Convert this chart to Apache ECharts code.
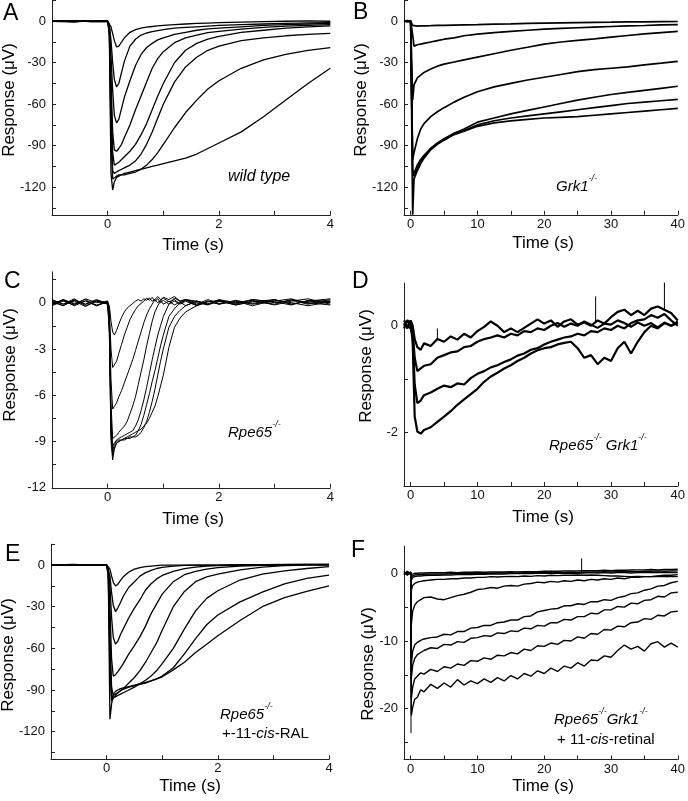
<!DOCTYPE html>
<html><head><meta charset="utf-8">
<script src="https://cdn.jsdelivr.net/npm/echarts@6/dist/echarts.min.js"></script>
<style>html,body{margin:0;padding:0;background:#fff}#c{width:688px;height:801px}</style>
</head><body><div id="c"></div>
<script>
// ---------- Panel A: wild type (time s, response µV) ----------
const aTime = [-1,-0.6,-0.3,0,0.03,0.06,0.09,0.12,0.16,0.2,0.25,0.3,0.4,0.5,0.6,0.7,0.8,0.9,1.0,1.2,1.4,1.6,1.8,2.0,2.4,2.8,3.2,3.6,4.0];
const aT1 = [0.5,-0.5,0.3,0,0,-4,-9,-14,-18.5,-18,-15,-12,-8,-6,-5,-4.3,-3.8,-3.4,-3,-2.5,-2,-1.6,-1.3,-1,-0.6,-0.3,0,0.3,0];
const aT2 = [0.3,0.5,-0.3,0,-2,-14,-30,-42,-47.5,-45,-37,-29,-18,-13,-10,-8.5,-7.5,-6.7,-6,-5,-4.5,-4,-3.5,-3,-2.5,-2,-1.5,-1.2,-1];
const aT3 = [0,0.3,0,0,-3,-25,-50,-68,-73.5,-71,-63,-55,-43,-32,-24,-19,-16,-13.5,-12,-9.5,-8,-6.5,-5.5,-5,-4,-3,-2.5,-2,-1.5];
const aT4 = [0,-0.3,0.3,0,-4,-40,-80,-93,-94,-92,-89,-84,-75,-64,-54,-44,-34,-27,-22,-15.5,-12,-10,-8.3,-7.3,-5.7,-4.5,-3.5,-3,-2.5];
const aT5 = [0,0.3,-0.3,0,-5,-55,-95,-104,-103,-102,-100,-98,-94,-89,-82,-74,-64,-54,-45,-30,-21,-16,-13,-11,-8,-6.5,-5,-4,-3.4];
const aT6 = [0,-0.3,0.3,0,-6,-70,-108,-110,-109,-108,-107,-106,-104,-101,-96,-89,-80,-70,-60,-44,-33,-26,-21,-18,-14,-12,-10.5,-9.5,-8.7];
const aT7 = [0,0.3,0,0,-8,-85,-114,-113,-112,-111,-111,-111,-110,-109,-107,-104,-100,-95,-89,-77,-66,-57,-49,-43,-34,-28,-24,-21,-19];
const aT8 = [0,-0.3,0.3,0,-10,-110,-122,-116,-113,-112,-111,-110,-109,-108,-107,-106,-105,-104,-103,-101,-99,-96,-92,-88,-80,-69,-57,-45,-34];

// ---------- Panel B: Grk1-/- ----------
const bTime = [-1,-0.5,0,0.2,0.3,0.5,1,1.5,2,3,4,5,6.5,8,10,12.5,15,17.5,20,22.5,25,27.5,30,32.5,35,37.5,40];
const bT1 = [0,0.5,0,0,-3,-3.5,-3.5,-3.4,-3.3,-3.2,-3,-3,-2.8,-2.6,-2.4,-2.1,-1.9,-1.6,-1.4,-1.2,-1,-0.8,-0.7,-0.5,-0.4,-0.3,-0.2];
const bT2 = [0,-0.5,0,0,-10,-18,-17,-16.5,-16,-15,-14,-13,-12,-10.5,-9.3,-8.3,-7.3,-6.5,-5.7,-5.2,-4.7,-4.2,-3.8,-3.4,-3.1,-2.7,-2.4];
const bT3 = [0,0,0.5,0,-57,-46,-41,-39,-37,-34.5,-32.5,-31,-29.5,-28,-26,-23.5,-21,-18.8,-16.5,-15,-13.8,-12.7,-11.5,-10.3,-9.2,-8.3,-7.4];
const bT4 = [0,0,-0.5,0,-100,-95,-85,-78,-74,-69,-65.5,-62.5,-58.5,-55,-51,-47.5,-45,-42.5,-40.5,-38.5,-36.5,-35,-34,-33,-31.5,-30.3,-29];
const bT5 = [0,0,0,0,-108,-110,-104,-100,-97,-92,-88,-85,-81,-78,-73,-70,-67,-64.5,-62,-59.5,-57,-55,-53,-51.5,-50,-48.5,-47];
const bT6 = [0,0,0,0,-110,-112,-106,-101,-98,-92,-88.5,-85.5,-81.5,-79,-75,-72,-70,-68.5,-67,-65.5,-64,-62.5,-61,-59.5,-58.5,-57.5,-56.5];
const bT7 = [0,0,0,0,-140,-114,-108,-103,-99,-93,-89,-86,-82,-79.5,-76,-73.5,-72,-71,-70,-69.5,-69,-68,-67,-66,-65,-64,-63];

// ---------- Panel C: Rpe65-/- ----------
const cTime = [-1,-0.8,-0.6,-0.4,-0.2,0,0.03,0.06,0.09,0.12,0.16,0.2,0.25,0.3,0.35,0.4,0.45,0.5,0.55,0.6,0.65,0.7,0.75,0.8,0.85,0.9,0.95,1.0,1.1,1.2,1.3,1.4,1.6,1.8,2.0,2.3,2.6,3.0,3.3,3.6,4.0];
const cT1 = [0.1,-0.2,0.2,-0.1,0.15,0,-0.2,-1.2,-1.9,-2.1,-1.8,-1.4,-0.95,-0.6,-0.35,-0.2,-0.05,0.1,0.2,0.1,0.25,0.15,0.3,0.1,0.2,0,0.15,-0.1,0.1,-0.15,0.05,-0.2,0.1,-0.1,0.15,-0.05,0.2,0,0.15,-0.1,0.2];
const cT2 = [-0.1,0.15,-0.2,0.1,-0.15,0.05,-0.5,-3,-4.2,-4.2,-3.8,-3.3,-2.7,-2.1,-1.6,-1.1,-0.75,-0.45,-0.2,-0.05,0.1,0.3,0.15,0.35,0.1,0.25,0,0.15,-0.1,0.1,-0.05,0.15,-0.15,0.1,-0.1,0.15,-0.05,0.2,-0.1,0.1,0];
const cT3 = [0.2,-0.1,0.1,-0.25,0.1,-0.05,-0.8,-5,-6.9,-6.8,-6.5,-6.1,-5.7,-5.2,-4.7,-4.2,-3.7,-3.1,-2.5,-1.9,-1.3,-0.8,-0.4,-0.1,0.2,0.4,0.2,0.3,0.05,0.2,-0.1,0.1,-0.2,0.05,0.15,-0.15,0.1,-0.1,0.2,0,-0.15];
const cT4 = [-0.15,0.2,-0.05,0.2,-0.2,0.1,-1,-6.5,-8.8,-8.7,-8.6,-8.4,-8.2,-8,-7.7,-7.2,-6.7,-6.1,-5.3,-4.5,-3.7,-2.8,-2,-1.2,-0.6,-0.2,0.1,0.35,0.2,0.4,0.1,0.2,0,-0.15,0.1,-0.1,0.2,0.05,-0.15,0.15,0.1];
const cT5 = [0.05,-0.2,0.15,-0.1,0.2,-0.1,-1.2,-7.5,-9.3,-9.1,-8.9,-8.8,-8.7,-8.6,-8.5,-8.4,-8.3,-8,-7.6,-7,-6.3,-5.5,-4.6,-3.7,-2.9,-2.1,-1.5,-0.9,-0.1,0.3,0.1,0.2,-0.1,0.2,-0.05,0.1,-0.2,0.15,0,-0.2,0.05];
const cT6 = [-0.2,0.1,-0.15,0.25,0,0.1,-1.5,-8,-9.6,-9.2,-9,-8.9,-8.9,-8.8,-8.8,-8.7,-8.7,-8.6,-8.3,-7.9,-7.3,-6.6,-5.9,-5.1,-4.4,-3.6,-2.8,-2.1,-0.9,-0.4,0,0.2,0.1,-0.1,0.2,0,0.15,-0.15,0.1,0.25,-0.1];
const cT7 = [0.15,-0.1,0.25,-0.2,0.1,-0.1,-1.8,-8.5,-9.9,-9.4,-9.1,-9,-8.9,-8.9,-8.8,-8.8,-8.7,-8.7,-8.6,-8.4,-8.1,-7.7,-7.1,-6.4,-5.6,-4.7,-3.8,-3,-1.6,-0.9,-0.5,-0.2,0.1,-0.1,0.1,-0.15,0.05,0.2,-0.1,0.1,0.25];
const cT8 = [-0.1,0.2,-0.1,0.1,-0.2,0.05,-2,-9,-10.2,-9.5,-9.1,-9,-8.9,-8.8,-8.7,-8.6,-8.5,-8.4,-8.3,-8.2,-8,-7.8,-7.5,-7.1,-6.7,-6.1,-5.4,-4.7,-2.9,-1.6,-1,-0.6,-0.2,0.1,-0.1,0.1,-0.1,0.1,0.25,-0.05,0.1];

// ---------- Panel D: Rpe65-/- Grk1-/- ----------
const dTime = [-1,-0.5,0,0.3,0.6,1,1.5,2,3,4,5,6,7,8,9,10,11,12,13,14,15,16,17,18,19,20,21,22,23,24,25,26,27,28,29,30,31,32,33,34,35,36,37,38,39,40];
const dT1 = [0.05,-0.05,0.1,0,-0.25,-0.4,-0.45,-0.33,-0.38,-0.25,-0.3,-0.2,-0.26,-0.15,-0.22,-0.1,-0.02,0.08,0,-0.12,-0.05,-0.12,-0.04,0.04,0.12,0.04,0.1,-0.02,0.08,0.12,0.02,0.06,0,0.1,0.04,0.16,0.26,0.3,0.2,0.28,0.2,0.32,0.36,0.3,0.24,0.1];
const dT2 = [-0.05,0.1,0,-0.1,-0.6,-0.85,-0.8,-0.75,-0.72,-0.6,-0.55,-0.5,-0.48,-0.4,-0.38,-0.3,-0.25,-0.22,-0.18,-0.22,-0.15,-0.18,-0.1,-0.12,-0.05,-0.08,0,0.05,-0.02,0.04,0,0.08,0.02,-0.04,0.04,0.02,0.1,0.05,-0.02,0.06,0,0.05,-0.03,0.06,0,0.05];
const dT3 = [0.1,0,-0.05,-0.2,-1.1,-1.45,-1.4,-1.3,-1.25,-1.18,-1.12,-1.15,-1.08,-1.1,-0.98,-0.9,-0.85,-0.78,-0.74,-0.68,-0.63,-0.56,-0.52,-0.45,-0.42,-0.35,-0.3,-0.26,-0.22,-0.2,-0.15,-0.18,-0.1,-0.12,-0.05,-0.08,0,-0.05,0.05,0.1,0.12,0.2,0.15,0.22,0.1,0];
const dT4 = [0,0.1,0.05,-0.3,-1.7,-1.98,-2.02,-1.95,-1.9,-1.8,-1.7,-1.6,-1.48,-1.38,-1.28,-1.18,-1.05,-0.95,-0.88,-0.8,-0.74,-0.66,-0.6,-0.52,-0.46,-0.42,-0.4,-0.35,-0.32,-0.3,-0.42,-0.6,-0.55,-0.72,-0.6,-0.66,-0.42,-0.3,-0.52,-0.3,-0.12,0,-0.05,0.05,0,0.08];
const dSpikeTime = [4, 27.7, 38];
const dSpikeLow = [-0.25, 0.05, 0.3];
const dSpikeHigh = [-0.05, 0.55, 0.86];

// ---------- Panel E: Rpe65-/- + 11-cis-RAL ----------
const eTime = [-1,-0.6,-0.3,0,0.03,0.06,0.09,0.12,0.16,0.2,0.25,0.3,0.4,0.5,0.6,0.7,0.8,0.9,1.0,1.2,1.4,1.6,1.8,2.0,2.4,2.8,3.2,3.6,4.0];
const eT1 = [0,0.5,0,0,0,-3,-8,-12.5,-15,-14,-11,-8.5,-5,-3,-1.8,-1.2,-0.8,-0.4,0,0,0,0,0,0,0,0,0.3,0.5,0.5];
const eT2 = [0,0,0.3,0,-1,-8,-20,-29,-33.5,-31,-27,-22.5,-16,-12,-8,-5.5,-3.8,-2.5,-1.7,-0.8,-0.3,0,0,0,0.3,0.3,0.5,0.5,0.5];
const eT3 = [0,0.3,0,0,-2,-15,-38,-52,-57,-55,-50,-46,-38,-31,-25,-18,-13.5,-10,-7.5,-4.5,-2.6,-1.5,-0.8,-0.5,0,0,0.3,0.3,0.3];
const eT4 = [0,0,0.3,0,-3,-30,-68,-80,-79,-77,-74,-71,-64,-58,-51.6,-44,-35,-28,-21,-12,-7,-4.5,-3,-1.8,-0.8,-0.3,0,0.3,0.3];
const eT5 = [0,0,0,0,-4,-50,-88,-94,-93,-92,-90.5,-89,-85,-81,-76,-70,-63,-56,-47,-30,-19,-12,-8.5,-6.5,-3.5,-1.5,-0.5,0,0];
const eT6 = [0,0,0,0,-5,-65,-95,-96,-95,-94,-93,-92,-90,-88,-85.5,-83,-80,-76,-71,-60,-46,-33,-24,-18.5,-10.8,-6.5,-4.2,-2.5,-1.2];
const eT7 = [0,0,0,0,-6,-75,-98,-96,-94,-92,-90.5,-89.5,-88,-87,-86,-85,-83.5,-82,-80,-74,-64,-53,-43,-36,-26.5,-19.5,-13.5,-9.6,-7.2];
const eT8 = [0,0,0,0,-8,-111,-100,-93,-91,-90,-89,-88.5,-87.5,-86.5,-85.5,-84.5,-83.5,-82,-80.5,-75.5,-70,-63,-57,-51,-40,-30,-23.5,-19,-15];

// ---------- Panel F: Rpe65-/- Grk1-/- + 11-cis-retinal ----------
const fTime = [-1,-0.5,0,0.1,0.3,0.6,1,1.5,2,3,4,5,6,7,8,9,10,11,12,13,14,15,16,17,18,19,20,21,22,23,24,25,26,27,28,29,30,31,32,33,34,35,36,37,38,39,40];
const fT1 = [0,0.1,0.1,-0.2,-0.1,0,0,0.05,0.05,0.1,0.1,0.1,0.15,0.1,0.15,0.15,0.2,0.15,0.2,0.2,0.2,0.25,0.2,0.25,0.25,0.25,0.3,0.3,0.3,0.35,0.35,0.35,0.4,0.4,0.4,0.45,0.4,0.45,0.45,0.5,0.5,0.5,0.55,0.5,0.55,0.55,0.6];
const fT2 = [0.1,0,0.1,-0.5,-0.3,-0.25,-0.2,-0.2,-0.15,-0.1,-0.1,-0.1,-0.05,-0.05,0,0,0,0.05,0,0.05,0.05,0.1,0.05,0.1,0.1,0.1,0.15,0.1,0.15,0.15,0.2,0.15,0.2,0.2,0.2,0.25,0.2,0.25,0.25,0.3,0.25,0.3,0.3,0.35,0.3,0.35,0.35];
const fT3 = [0,0.1,0,-1,-0.6,-0.5,-0.4,-0.4,-0.35,-0.3,-0.3,-0.25,-0.25,-0.2,-0.2,-0.2,-0.15,-0.15,-0.1,-0.1,-0.1,-0.05,-0.05,0,-0.05,0,0,0,0.05,0,0.05,0,0.05,0.1,0.05,0.1,0.05,0.1,0.1,0.05,0.1,0.15,0.1,0.15,0.1,0.15,0.1];
const fT4 = [0.1,0,-0.1,-2.5,-1.8,-1.5,-1.3,-1.2,-1.1,-1,-0.9,-0.9,-0.8,-0.8,-0.7,-0.7,-0.6,-0.6,-0.5,-0.55,-0.5,-0.45,-0.5,-0.4,-0.45,-0.35,-0.4,-0.3,-0.35,-0.3,-0.3,-0.25,-0.3,-0.25,-0.3,-0.35,-0.4,-0.4,-0.45,-0.5,-0.45,-0.5,-0.5,-0.45,-0.5,-0.45,-0.5];
const fT5 = [0,-0.1,0.1,-7.5,-5.6,-4.7,-4.2,-3.9,-3.6,-3.5,-3.8,-3.9,-3.6,-3.3,-3.1,-2.8,-2.4,-2.3,-2.1,-2.2,-1.9,-1.8,-1.9,-1.6,-1.5,-1.3,-1.4,-1.2,-1.3,-1.1,-1.2,-1,-1.1,-0.9,-1,-0.8,-0.9,-0.7,-0.8,-0.6,-0.6,-0.5,-0.5,-0.4,-0.3,-0.3,-0.2];
const fT6 = [-0.1,0.2,0,-13.5,-11.5,-10.6,-10.2,-9.9,-9.7,-9.5,-9.4,-9,-9.1,-8.6,-8.6,-8.1,-8,-7.7,-7.7,-7.3,-7.2,-6.9,-6.9,-6.4,-6.3,-5.7,-5.5,-5.3,-5.2,-4.8,-4.8,-4.5,-4.6,-4.2,-4.2,-3.9,-4,-3.6,-3.4,-3,-2.9,-2.5,-2.3,-1.9,-1.8,-1.4,-1.2];
const fT7 = [0.1,-0.2,0.2,-15.5,-13.6,-12.6,-12,-11.7,-11.4,-11,-11.1,-10.5,-10.6,-10.1,-10.2,-9.6,-9.5,-9.2,-9.3,-8.8,-8.9,-8.5,-8.6,-8.1,-8.2,-7.7,-7.8,-7.3,-7.3,-6.8,-6.9,-6.4,-6.4,-5.9,-6,-5.4,-5.4,-4.9,-5,-4.4,-4.5,-4,-3.9,-3.4,-3.5,-2.9,-2.8];
const fT8 = [-0.2,0.3,-0.1,-18.5,-16.8,-15.6,-15.2,-14.7,-14.9,-14.2,-14.5,-13.8,-14,-13.4,-13.6,-12.9,-13,-12.5,-12.7,-12.1,-12.2,-11.7,-11.9,-11.2,-11.4,-10.7,-10.8,-10.3,-10.5,-9.9,-10,-9.4,-9.6,-8.9,-9,-8.3,-8.4,-7.8,-7.9,-7.3,-7.2,-6.7,-6.8,-6.2,-6.3,-5.7,-5.6];
const fT9 = [0.3,-0.3,0.2,-21,-19.8,-18.6,-18.3,-17.2,-17.5,-16.4,-17,-16.2,-16.8,-15.7,-16.5,-15.9,-16.3,-15.6,-16.1,-15.4,-15.9,-15.1,-15.6,-14.8,-15.2,-14.4,-14.8,-14,-14.5,-13.7,-14,-13.2,-13.7,-12.8,-12.9,-12.2,-12.4,-11.4,-10.6,-11.2,-10.8,-11.5,-10.4,-10.1,-10.9,-10.3,-10.9];
const fSpikeTime = [0.05, 25.6];
const fSpikeLow = [0, 0.2];
const fSpikeHigh = [-23.6, 2.2];

// ---------- tick values ----------
const shortXLabels = [0, 2, 4], shortXTicks = [0, 1, 2, 3, 4];
const longXLabels = [0, 10, 20, 30, 40], longXTicks = [0, 5, 10, 15, 20, 25, 30, 35, 40];
const uvLabels = [0, -30, -60, -90, -120], uvTicks = [15, 0, -15, -30, -45, -60, -75, -90, -105, -120, -135];
const cLabels = [0, -3, -6, -9, -12], cTicks = [1.5, 0, -1.5, -3, -4.5, -6, -7.5, -9, -10.5, -12];
const dLabels = [0, -2], dTicks = [0, -1, -2, -3];
const fLabels = [0, -10, -20], fTicks = [0, -5, -10, -15, -20, -25];

const FONT = '"Liberation Sans", Arial, sans-serif';
const AX = '#222';

const grids = [
  {left: 52, top: 0.5, width: 278.3, height: 214.4},
  {left: 404, top: 0.5, width: 277.5, height: 214.3},
  {left: 52, top: 271.8, width: 278.3, height: 216},
  {left: 404, top: 283, width: 277.5, height: 203},
  {left: 51, top: 544.2, width: 278, height: 215.2},
  {left: 404, top: 546.2, width: 276.7, height: 213.3}
];

function xAx(i, min, max, labels, ticks) {
  return {gridIndex: i, type: 'value', min: min, max: max,
    axisLine: {show: true, onZero: false, lineStyle: {color: AX, width: 1}},
    axisTick: {show: true, inside: true, length: 4, customValues: ticks, lineStyle: {color: AX}},
    axisLabel: {customValues: labels, margin: 3, fontSize: 13, color: '#111', fontFamily: FONT},
    splitLine: {show: false}};
}
function yAx(i, min, max, labels, ticks) {
  return {gridIndex: i, type: 'value', min: min, max: max,
    axisLine: {show: true, onZero: false, lineStyle: {color: AX, width: 1}},
    axisTick: {show: true, inside: true, length: 4, customValues: ticks, lineStyle: {color: AX}},
    axisLabel: {customValues: labels, margin: 6, fontSize: 13, color: '#111', fontFamily: FONT},
    splitLine: {show: false}};
}

const xAxes = [
  xAx(0, -1, 4, shortXLabels, shortXTicks),
  xAx(1, -1, 40, longXLabels, longXTicks),
  xAx(2, -1, 4, shortXLabels, shortXTicks),
  xAx(3, -1, 40, longXLabels, longXTicks),
  xAx(4, -1, 4, shortXLabels, shortXTicks),
  xAx(5, -1, 40, longXLabels, longXTicks)
];
const yAxes = [
  yAx(0, -140, 15, uvLabels, uvTicks),
  yAx(1, -140, 15, uvLabels, uvTicks),
  yAx(2, -12, 2, cLabels, cTicks),
  yAx(3, -3, 0.8, dLabels, dTicks),
  yAx(4, -140, 15, uvLabels, uvTicks),
  yAx(5, -27.5, 4, fLabels, fTicks)
];

const series = [];
function addTraces(idx, time, traces, width) {
  traces.forEach(function (v) {
    series.push({type: 'line', xAxisIndex: idx, yAxisIndex: idx, showSymbol: false, silent: true,
      animation: false, clip: true,
      lineStyle: {color: '#000', width: width}, data: time.map(function (t, k) { return [t, v[k]]; })});
  });
}
function addSpikes(idx, time, low, high, width) {
  time.forEach(function (t, k) {
    series.push({type: 'line', xAxisIndex: idx, yAxisIndex: idx, showSymbol: false, silent: true,
      animation: false, lineStyle: {color: '#000', width: width}, data: [[t, low[k]], [t, high[k]]]});
  });
}
addTraces(0, aTime, [aT1, aT2, aT3, aT4, aT5, aT6, aT7, aT8], 1.3);
addTraces(1, bTime, [bT1, bT2, bT3, bT4, bT5, bT6, bT7], 1.7);
addTraces(2, cTime, [cT1, cT2, cT3, cT4, cT5, cT6, cT7, cT8], 1);
addTraces(3, dTime, [dT1, dT2, dT3, dT4], 2.2);
addSpikes(3, dSpikeTime, dSpikeLow, dSpikeHigh, 1);
addTraces(4, eTime, [eT1, eT2, eT3, eT4, eT5, eT6, eT7, eT8], 1.3);
addTraces(5, fTime, [fT1, fT2, fT3, fT4, fT5, fT6, fT7, fT8, fT9], 1.4);
addSpikes(5, fSpikeTime, fSpikeLow, fSpikeHigh, 1);

function txt(x, y, text, size, opts) {
  opts = opts || {};
  return {type: 'text', x: x, y: y, rotation: opts.rot || 0, silent: true,
    style: {text: text, font: (opts.italic ? 'italic ' : '') + size + 'px ' + FONT, fill: '#000',
      textAlign: opts.align || 'left', textVerticalAlign: 'middle'}};
}
function rich(x, y, text, size) {
  return {type: 'text', x: x, y: y, silent: true,
    style: {text: text, fill: '#000', textAlign: 'left', textVerticalAlign: 'middle',
      rich: {
        i: {fontStyle: 'italic', fontSize: size, fontFamily: FONT, lineHeight: 20, verticalAlign: 'bottom'},
        n: {fontSize: size, fontFamily: FONT, lineHeight: 20, verticalAlign: 'bottom'},
        s: {fontStyle: 'italic', fontSize: 9, fontFamily: FONT, lineHeight: 20, verticalAlign: 'top'}
      }}};
}
const R = Math.PI / 2;
const graphics = [
  txt(3, 14, 'A', 23), txt(353, 13, 'B', 23), txt(4, 282, 'C', 23),
  txt(352, 282, 'D', 23), txt(5, 555, 'E', 23), txt(351, 551, 'F', 23),
  txt(9, 100, 'Response (\u03BCV)', 17, {rot: R, align: 'center'}),
  txt(361, 100, 'Response (\u03BCV)', 17, {rot: R, align: 'center'}),
  txt(10, 365, 'Response (\u03BCV)', 17, {rot: R, align: 'center'}),
  txt(366, 366, 'Response (\u03BCV)', 17, {rot: R, align: 'center'}),
  txt(8, 655, 'Response (\u03BCV)', 17, {rot: R, align: 'center'}),
  txt(368, 664, 'Response (\u03BCV)', 17, {rot: R, align: 'center'}),
  txt(193, 245, 'Time (s)', 17, {align: 'center'}),
  txt(543, 243, 'Time (s)', 17, {align: 'center'}),
  txt(193, 519, 'Time (s)', 17, {align: 'center'}),
  txt(543, 517, 'Time (s)', 17, {align: 'center'}),
  txt(190, 786, 'Time (s)', 17, {align: 'center'}),
  txt(543, 786, 'Time (s)', 17, {align: 'center'}),
  txt(228, 177, 'wild type', 16, {italic: true}),
  rich(556, 184, '{i|Grk1}{s|-/-}', 15),
  rich(228, 430, '{i|Rpe65}{s|-/-}', 15),
  rich(549, 443, '{i|Rpe65}{s|-/-}{i| Grk1}{s|-/-}', 15),
  rich(220, 712, '{i|Rpe65}{s|-/-}', 15),
  rich(222, 731, '{n|+-11-}{i|cis}{n|-RAL}', 15),
  rich(554, 717, '{i|Rpe65}{s|-/-}{i|Grk1}{s|-/-}', 15),
  rich(557, 737, '{n|+ 11-}{i|cis}{n|-retinal}', 15)
];

const chart = echarts.init(document.getElementById('c'), null, {renderer: 'canvas'});
chart.setOption({
  backgroundColor: '#fff',
  animation: false,
  grid: grids,
  xAxis: xAxes,
  yAxis: yAxes,
  series: series,
  graphic: graphics
});
</script></body></html>
